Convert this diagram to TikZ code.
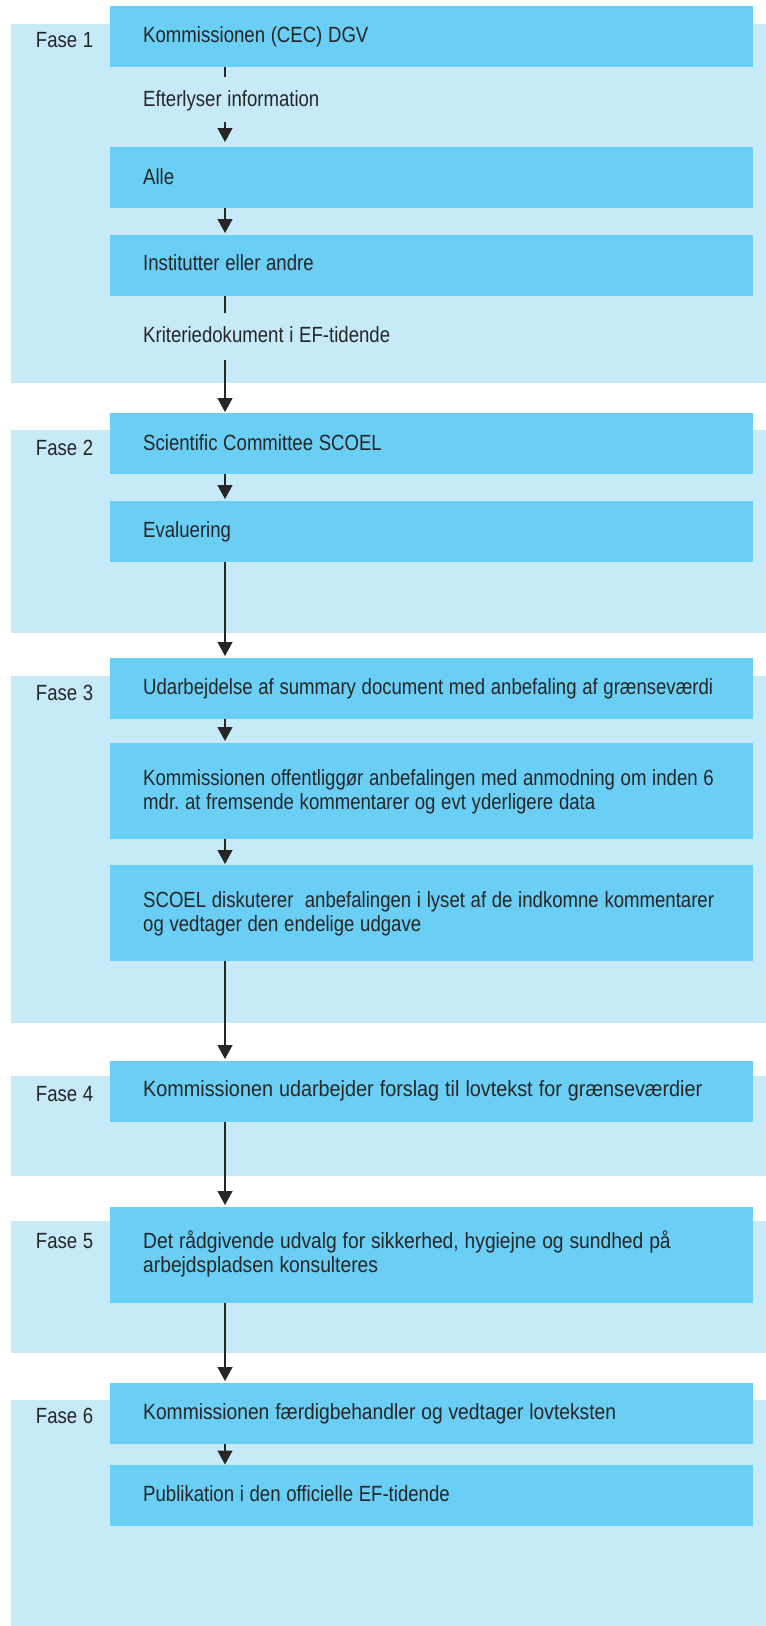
\documentclass[tikz,border=0pt]{standalone}
\usepackage{fontspec}
\setmainfont{Liberation Sans}[FakeStretch=0.845,WordSpace=1.1]
\newfontfamily\widerfont{Liberation Sans}[FakeStretch=0.9,WordSpace=1.1]
\newfontfamily\midfont{Liberation Sans}[FakeStretch=0.875,WordSpace=1.1]
\frenchspacing
\usetikzlibrary{arrows.meta}
\definecolor{panelc}{HTML}{C7EAF9}
\definecolor{boxc}{HTML}{6BCEF5}
\definecolor{inkc}{HTML}{262626}
\begin{document}
\begin{tikzpicture}[x=1pt,y=-1pt,
  panel/.style={fill=panelc},
  box/.style={fill=boxc, draw=none, inner sep=0pt, anchor=north west, minimum width=643pt},
  one/.style={box, minimum height=61pt},
  two/.style={box, minimum height=96pt},
  txt/.style={inner sep=0pt, anchor=base west, text=inkc, font=\fontsize{22}{24}\selectfont, text width=615pt, align=flush left},
  fase/.style={inner sep=0pt, anchor=base west, text=inkc, font=\fontsize{22}{24}\selectfont},
  flow/.style={draw=inkc, line width=1.2pt},
  arr/.style={flow, -{Triangle[width=15pt,length=14pt]}, shorten >=2pt}
]
\useasboundingbox (0,0) rectangle (766,1626);

% phase panels
\fill[panel] (11,24) rectangle (766,383);
\fill[panel] (11,430) rectangle (766,633);
\fill[panel] (11,676) rectangle (766,1023);
\fill[panel] (11,1076) rectangle (766,1176);
\fill[panel] (11,1221) rectangle (766,1353);
\fill[panel] (11,1400) rectangle (766,1626);

% boxes
\node[one] (b1) at (110,6) {};
\node[one] (b2) at (110,147) {};
\node[one] (b3) at (110,235) {};
\node[one] (b4) at (110,413) {};
\node[one] (b5) at (110,501) {};
\node[one] (b6) at (110,658) {};
\node[two] (b7) at (110,743) {};
\node[two] (b8) at (110,865) {};
\node[one] (b9) at (110,1061) {};
\node[two] (b10) at (110,1207) {};
\node[one] (b11) at (110,1383) {};
\node[one] (b12) at (110,1465) {};

% phase labels
\node[fase] (f1) at (35.7,47.3) {Fase 1};
\node[fase] (f2) at (35.7,455) {Fase 2};
\node[fase] (f3) at (35.7,700) {Fase 3};
\node[fase] (f4) at (35.7,1101.7) {Fase 4};
\node[fase] (f5) at (35.7,1248.3) {Fase 5};
\node[fase] (f6) at (35.7,1423.3) {Fase 6};

% texts
\node[txt] (t1) at (143,42.3) {Kommissionen (CEC) DGV};
\node[txt] (t2) at (143,106.5) {Efterlyser information};
\node[txt] (t3) at (143,184) {Alle};
\node[txt] (t4) at (143,270.7) {Institutter eller andre};
\node[txt] (t5) at (143,342) {Kriteriedokument i EF-tidende};
\node[txt] (t6) at (143,450) {Scientific Committee SCOEL};
\node[txt] (t7) at (143,537.7) {Evaluering};
\node[txt] (t8) at (143,694.3) {Udarbejdelse af summary document med anbefaling af grænseværdi};
\node[txt] (t9) at (143,785) {Kommissionen offentliggør anbefalingen med anmodning om inden 6\\mdr. at fremsende kommentarer og evt yderligere data};
\node[txt] (t10) at (143,907.7) {SCOEL diskuterer~ anbefalingen i lyset af de indkomne kommentarer\\og vedtager den endelige udgave};
\node[txt] (t11) at (143,1096.7) {\widerfont Kommissionen udarbejder forslag til lovtekst for grænseværdier};
\node[txt] (t12) at (143,1248.3) {\midfont Det rådgivende udvalg for sikkerhed, hygiejne og sundhed på\\arbejdspladsen konsulteres};
\node[txt] (t13) at (143,1419) {\midfont Kommissionen færdigbehandler og vedtager lovteksten};
\node[txt] (t14) at (143,1501.7) {Publikation i den officielle EF-tidende};

% connectors
\coordinate (cx) at (225,0);
\coordinate (s1) at (225,77.3);
\coordinate (s2) at (225,122);
\coordinate (s3) at (225,313.3);
\coordinate (s4) at (225,360);
\draw[flow] (b1.south -| cx) -- (s1);
\draw[arr, shorten >=5pt] (s2) -- (b2.north -| cx);
\draw[arr] (b2.south -| cx) -- (b3.north -| cx);
\draw[flow] (b3.south -| cx) -- (s3);
\draw[arr, shorten >=1pt] (s4) -- (b4.north -| cx);
\draw[arr] (b4.south -| cx) -- (b5.north -| cx);
\draw[arr] (b5.south -| cx) -- (b6.north -| cx);
\draw[arr] (b6.south -| cx) -- (b7.north -| cx);
\draw[arr, shorten >=1pt] (b7.south -| cx) -- (b8.north -| cx);
\draw[arr] (b8.south -| cx) -- (b9.north -| cx);
\draw[arr] (b9.south -| cx) -- (b10.north -| cx);
\draw[arr] (b10.south -| cx) -- (b11.north -| cx);
\draw[arr, shorten >=0.5pt] (b11.south -| cx) -- (b12.north -| cx);
\end{tikzpicture}
\end{document}
